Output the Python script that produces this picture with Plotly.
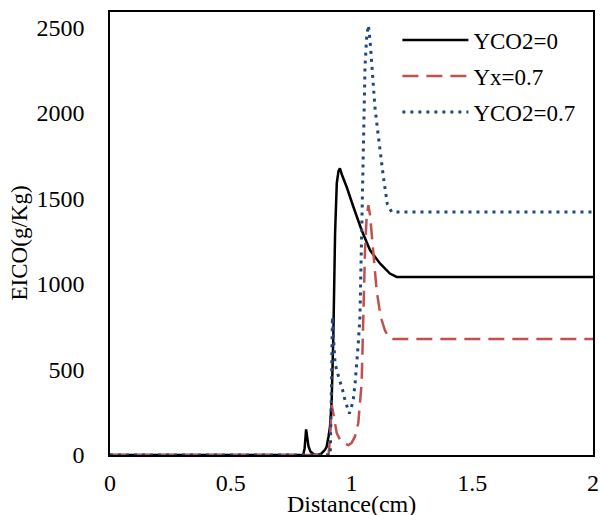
import plotly.graph_objects as go

# Data
x_yco2_0 = [0, 0.80, 0.806, 0.812, 0.816, 0.822, 0.83, 0.845, 0.86, 0.875, 0.89, 0.897, 0.905, 0.911, 0.918, 0.925, 0.932, 0.939, 0.946, 0.952, 0.96, 0.98, 1.008, 1.042, 1.077, 1.118, 1.159, 1.187, 1.22, 2]
y_yco2_0 = [0, 0, 40, 150, 110, 50, 20, 3, 0, 8, 30, 48, 110, 165, 321, 712, 1295, 1588, 1660, 1676, 1640, 1567, 1450, 1314, 1197, 1120, 1061, 1041, 1040, 1040]

x_yx_07 = [0, 0.905, 0.911, 0.915, 0.918, 0.925, 0.932, 0.939, 0.952, 0.966, 0.987, 1.0, 1.014, 1.028, 1.042, 1.049, 1.056, 1.063, 1.070, 1.077, 1.084, 1.094, 1.104, 1.115, 1.125, 1.138, 1.152, 1.173, 1.2, 2]
y_yx_07 = [0, 0, 100, 250, 292, 240, 175, 128, 90, 70, 58, 70, 107, 186, 420, 905, 1197, 1400, 1460, 1400, 1295, 1120, 964, 860, 789, 730, 691, 678, 678, 678]

x_yco2_07 = [0, 0.912, 0.916, 0.919, 0.921, 0.925, 0.932, 0.942, 0.952, 0.963, 0.973, 0.983, 0.991, 1.0, 1.008, 1.015, 1.021, 1.028, 1.035, 1.042, 1.049, 1.056, 1.063, 1.070, 1.077, 1.084, 1.097, 1.108, 1.118, 1.132, 1.148, 1.166, 1.19, 2]
y_yco2_07 = [0, 0, 300, 650, 808, 700, 535, 480, 438, 380, 321, 280, 243, 280, 331, 420, 516, 650, 808, 1295, 1880, 2268, 2450, 2512, 2420, 2268, 2034, 1900, 1782, 1626, 1470, 1421, 1420, 1420]

x_ticks = [0, 0.5, 1, 1.5, 2]
x_tick_labels = ["0", "0.5", "1", "1.5", "2"]
y_ticks = [0, 500, 1000, 1500, 2000, 2500]
y_tick_labels = ["0", "500", "1000", "1500", "2000", "2500"]

FONT = "Liberation Serif"

fig = go.Figure()
fig.add_trace(go.Scatter(x=x_yco2_0, y=y_yco2_0, mode="lines", name="YCO2=0",
                         legendgroup="a",
                         line=dict(color="black", width=2.5)))
fig.add_trace(go.Scatter(x=x_yx_07, y=y_yx_07, mode="lines", name="Yx=0.7",
                         legendgroup="b",
                         line=dict(color="#C0504D", width=2.5, dash="16px,8px")))
fig.add_trace(go.Scatter(x=x_yco2_07, y=y_yco2_07, mode="lines", name="YCO2=0.7",
                         legendgroup="c",
                         line=dict(color="#1F497D", width=3, dash="3px,5px")))

fig.update_layout(
    width=600, height=515,
    margin=dict(l=110, r=7, t=12, b=60),
    paper_bgcolor="white", plot_bgcolor="white",
    font=dict(family=FONT, size=24, color="black"),
    showlegend=True,
    legend=dict(x=0.595, y=0.985, xanchor="left", yanchor="top",
                bgcolor="rgba(0,0,0,0)", font=dict(size=23),
                tracegroupgap=3, itemwidth=66),
    annotations=[
        dict(text="Distance(cm)", xref="paper", yref="paper", x=0.5, y=-0.077,
             xanchor="center", yanchor="top", showarrow=False,
             font=dict(size=24, family=FONT)),
        dict(text="EICO(g/Kg)", xref="paper", yref="paper", x=-0.188, y=0.478,
             xanchor="center", yanchor="middle", showarrow=False, textangle=-90,
             font=dict(size=23, family=FONT)),
    ],
)
fig.update_xaxes(range=[0, 2], tickvals=x_ticks, ticktext=x_tick_labels,
                 showgrid=False, zeroline=False, showline=True, linecolor="black",
                 linewidth=1.5, mirror=True, ticks="", ticklabelstandoff=5,
                 automargin=False)
fig.update_yaxes(range=[0, 2590], tickvals=y_ticks, ticktext=y_tick_labels,
                 showgrid=False, zeroline=False, showline=True, linecolor="black",
                 linewidth=1.5, mirror=True, ticks="", ticklabelstandoff=19,
                 automargin=False)

fig.write_html("out.html")
